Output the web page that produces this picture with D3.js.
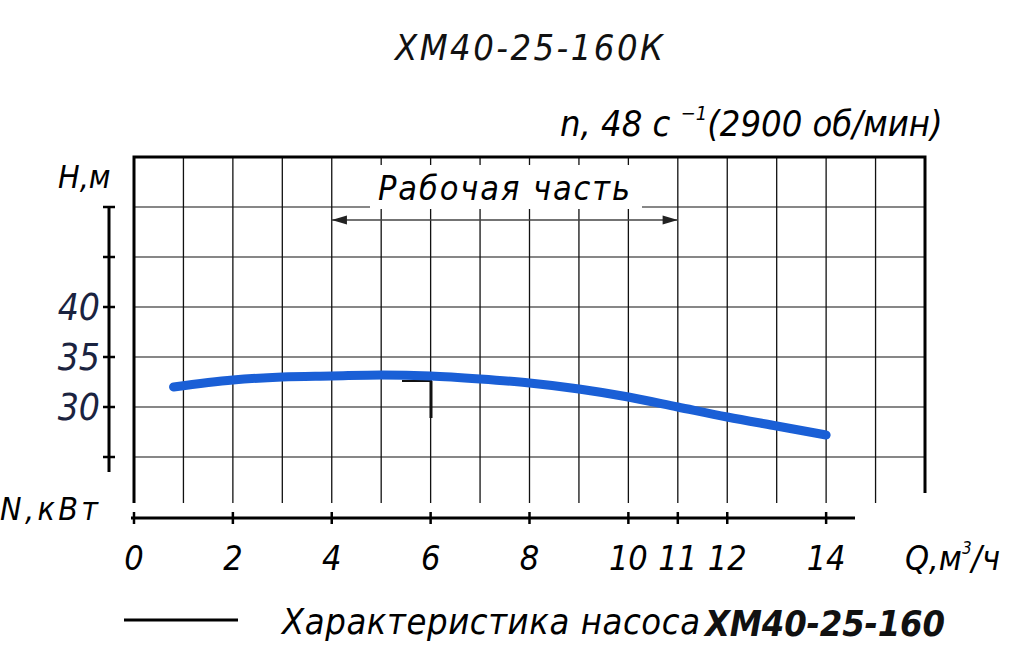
<!DOCTYPE html>
<html><head><meta charset="utf-8">
<script src="https://cdn.jsdelivr.net/npm/d3@7"></script>
<style>body{margin:0;background:#fff}text{font-family:"DejaVu Sans Condensed","DejaVu Sans",sans-serif;font-style:italic}</style>
</head><body>
<svg id="c" width="1024" height="661"></svg>
<script>
const qPts=[0.8,2,3,4,5,6,7,8,9,10,11,12,13,14];
const hPts=[32.0,32.7,33.0,33.1,33.2,33.1,32.8,32.4,31.8,31.0,30.0,29.0,28.1,27.2];
const xTicks=[0,2,4,6,8,10,11,12,14];
const yTicks=[30,35,40];
const yTickMarks=[25,30,35,40,45,50];
const title="ХМ40-25-160К";
const speed="n, 48 c";
const workRange=[4,11];

const svg=d3.select("#c");
const x=d3.scaleLinear().domain([0,16]).range([134,925]);
const y=d3.scaleLinear().domain([25,55]).range([457,157]);
const gBot=503;

const g=svg.append("g");
d3.range(1,16).forEach(i=>g.append("line").attr("x1",x(i)).attr("x2",x(i)).attr("y1",y(55)).attr("y2",gBot).attr("stroke","#111").attr("stroke-width",1.3));
d3.range(25,55,5).forEach(v=>g.append("line").attr("x1",x(0)).attr("x2",x(16)).attr("y1",y(v)).attr("y2",y(v)).attr("stroke","#111").attr("stroke-width",1.2));
g.append("path").attr("d",`M${x(0)},${gBot}V${y(55)}H${x(16)}V${gBot-10}`).attr("fill","none").attr("stroke","#000").attr("stroke-width",3);

const la=svg.append("g");
la.append("line").attr("x1",109).attr("x2",109).attr("y1",y(50)).attr("y2",472).attr("stroke","#000").attr("stroke-width",3);
yTickMarks.forEach(v=>la.append("line").attr("x1",103).attr("x2",115).attr("y1",y(v)).attr("y2",y(v)).attr("stroke","#000").attr("stroke-width",2.5));
yTicks.forEach(v=>la.append("text").attr("x",100).attr("y",y(v)+13).attr("text-anchor","end").attr("font-size",37).attr("fill","#1a2340").attr("font-family","DejaVu Sans").text(v));
svg.append("text").attr("x",58).attr("y",188).attr("font-size",32).text("H,м");
svg.append("text").attr("x",0).attr("y",520).attr("font-size",32).attr("textLength",98).text("N,кВт");

const xa=svg.append("g");
xa.append("line").attr("x1",131).attr("x2",855).attr("y1",518).attr("y2",518).attr("stroke","#000").attr("stroke-width",3);
xTicks.forEach(v=>{
 xa.append("line").attr("x1",x(v)).attr("x2",x(v)).attr("y1",512).attr("y2",524).attr("stroke","#000").attr("stroke-width",2.5);
 xa.append("text").attr("x",x(v)).attr("y",570).attr("text-anchor","middle").attr("font-size",34).text(v);
});
const ql=svg.append("text").attr("x",905).attr("y",570).attr("font-size",34);
ql.append("tspan").text("Q,м");ql.append("tspan").attr("dy",-16).attr("font-size",17).text("3");ql.append("tspan").attr("dy",16).text("/ч");

svg.append("text").attr("x",395).attr("y",60).attr("font-size",36).attr("fill","#111").attr("textLength",268).text(title);
const sp=svg.append("text").attr("x",560).attr("y",136).attr("font-size",36);
sp.append("tspan").text(speed+" ");sp.append("tspan").attr("dy",-16).attr("font-size",20).text("−1");sp.append("tspan").attr("dy",16).text("(2900 об/мин)");

svg.append("defs").append("marker").attr("id","ar").attr("viewBox","0 0 10 6").attr("refX",10).attr("refY",3).attr("markerWidth",22).attr("markerHeight",7).attr("orient","auto-start-reverse").append("path").attr("d","M0,0L10,3L0,6z").attr("fill","#222");
svg.append("line").attr("x1",x(workRange[0])).attr("x2",x(workRange[1])).attr("y1",220).attr("y2",220).attr("stroke","#444").attr("stroke-width",1.3).attr("marker-start","url(#ar)").attr("marker-end","url(#ar)");
svg.append("rect").attr("x",370).attr("y",165).attr("width",272).attr("height",44).attr("fill","#fff");
svg.append("text").attr("x",378).attr("y",200).attr("font-size",34).attr("textLength",252).text("Рабочая часть");
svg.append("line").attr("x1",402).attr("x2",432).attr("y1",381).attr("y2",381).attr("stroke","#111").attr("stroke-width",2);
svg.append("line").attr("x1",431).attr("x2",431).attr("y1",381).attr("y2",418).attr("stroke","#111").attr("stroke-width",3);

svg.append("path").datum(qPts.map((q,i)=>[q,hPts[i]])).attr("d",d3.line().x(d=>x(d[0])).y(d=>y(d[1])).curve(d3.curveMonotoneX)).attr("fill","none").attr("stroke","#1a5fd6").attr("stroke-width",9).attr("stroke-linecap","round");

svg.append("line").attr("x1",124).attr("x2",238).attr("y1",620).attr("y2",620).attr("stroke","#000").attr("stroke-width",3);
svg.append("text").attr("x",282).attr("y",634).attr("font-size",36).attr("textLength",418).text("Характеристика насоса");
svg.append("text").attr("x",705).attr("y",636).attr("font-size",36).attr("font-style","normal").attr("font-weight","bold").attr("fill","#111").attr("textLength",240).text("ХМ40-25-160");
</script></body></html>
